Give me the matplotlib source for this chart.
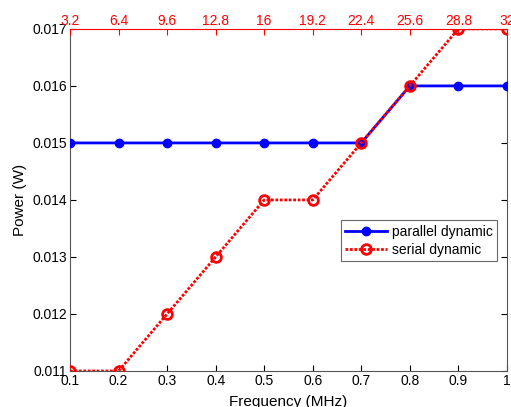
import numpy as np
import matplotlib.pyplot as plt

plt.rcParams['font.family'] = ['Liberation Sans', 'DejaVu Sans']

freq = [0.1, 0.2, 0.3, 0.4, 0.5, 0.6, 0.7, 0.8, 0.9, 1.0]
parallel = [0.015, 0.015, 0.015, 0.015, 0.015, 0.015, 0.015, 0.016, 0.016, 0.016]
serial = [0.011, 0.011, 0.012, 0.013, 0.014, 0.014, 0.015, 0.016, 0.017, 0.017]
top_ticks = [3.2, 6.4, 9.6, 12.8, 16, 19.2, 22.4, 25.6, 28.8, 32]
top_labels = ['3.2', '6.4', '9.6', '12.8', '16', '19.2', '22.4', '25.6', '28.8', '32']

fig = plt.figure(figsize=(5.11, 4.07), dpi=100)
ax = fig.add_axes([0.137, 0.0885, 0.855, 0.8405])

ax.plot(freq, parallel, '-', color='#0000ff', lw=2, marker='o', ms=6,
        mfc='#0000ff', mec='#0000ff', label='parallel dynamic', zorder=3)
ax.plot(freq, serial, linestyle=(0, (1, 0.6)), color='#ff0000', lw=2, marker='o', ms=7,
        mfc='none', mec='#ff0000', mew=2, label='serial dynamic', zorder=4)

ax.set_xlim(0.1, 1.0)
ax.set_ylim(0.011, 0.017)
ax.set_xticks(freq)
ax.set_xticklabels(['0.1', '0.2', '0.3', '0.4', '0.5', '0.6', '0.7', '0.8', '0.9', '1'])
ax.set_yticks([0.011, 0.012, 0.013, 0.014, 0.015, 0.016, 0.017])
ax.set_yticklabels(['0.011', '0.012', '0.013', '0.014', '0.015', '0.016', '0.017'])
ax.tick_params(direction='in', length=4, labelsize=10, colors='black',
               right=True, pad=2)
for s in ['left', 'bottom', 'right']:
    ax.spines[s].set_color('#555555')
ax.spines['top'].set_visible(False)
ax.set_xlabel('Frequency (MHz)', fontsize=11, labelpad=5)
ax.set_ylabel('Power (W)', fontsize=11, labelpad=4)

leg = ax.legend(loc='upper left', bbox_to_anchor=(0.62, 0.44), fontsize=10,
                frameon=True, fancybox=False, handlelength=3.0,
                borderpad=0.3, labelspacing=0.3, handletextpad=0.4,
                borderaxespad=0)
leg.get_frame().set_edgecolor('#444444')
leg.get_frame().set_linewidth(0.8)

ax2 = ax.twiny()
ax2.set_xlim(3.2, 32)
ax2.set_xticks(top_ticks)
ax2.set_xticklabels(top_labels)
ax2.tick_params(direction='in', length=4, labelsize=10, colors='#ff0000', pad=1)
ax2.spines['top'].set_color('#ff0000')
for s in ['left', 'bottom', 'right']:
    ax2.spines[s].set_visible(False)

fig.savefig('out.png', dpi=100)
